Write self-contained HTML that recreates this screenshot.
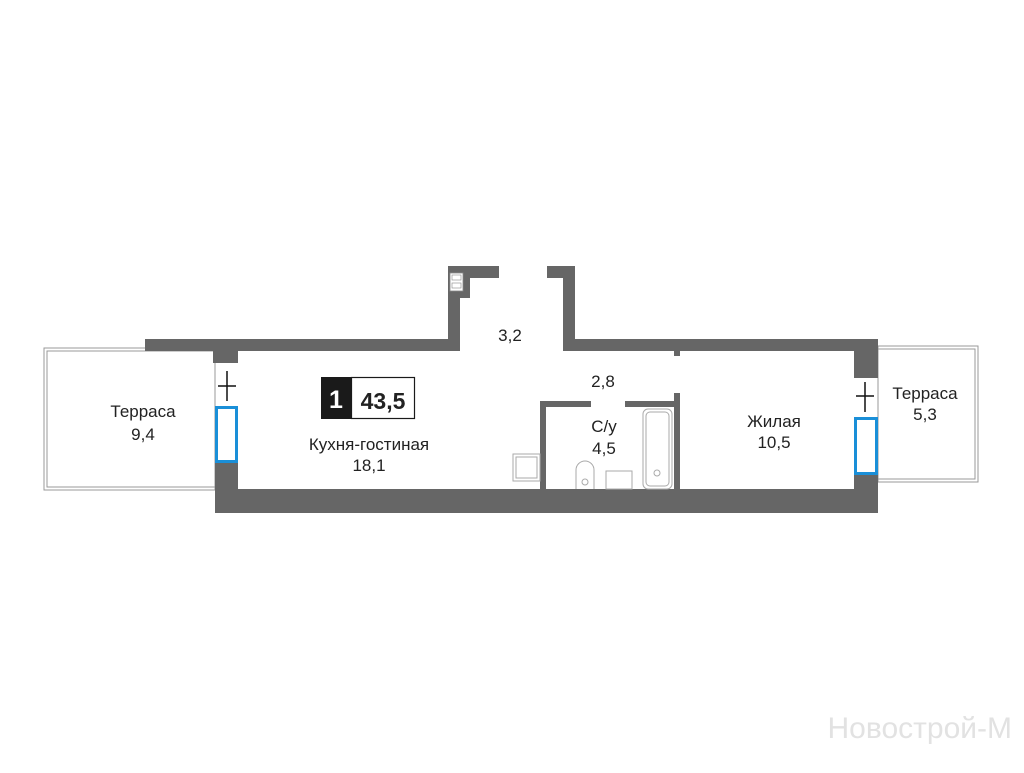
<!DOCTYPE html>
<html><head><meta charset="utf-8"><style>
body{margin:0;background:#fff;}
svg text{font-family:"Liberation Sans","DejaVu Sans",sans-serif;fill:#222;}
</style></head><body>
<svg width="1024" height="768" viewBox="0 0 1024 768" xmlns="http://www.w3.org/2000/svg">
<g fill="none" stroke="#999" stroke-width="1">
<rect x="44" y="348" width="171" height="142"/>
<rect x="47" y="351" width="168" height="136"/>
<rect x="878" y="346" width="100" height="136"/>
<rect x="878" y="349" width="97" height="130"/>
</g>
<g fill="#666">
<rect x="145" y="339" width="315" height="12"/>
<rect x="213" y="351" width="25" height="12"/>
<rect x="448" y="266" width="12" height="85"/>
<rect x="448" y="266" width="51" height="12"/>
<rect x="448" y="266" width="22" height="32"/>
<rect x="547" y="266" width="28" height="12"/>
<rect x="563" y="266" width="12" height="85"/>
<rect x="563" y="339" width="315" height="12"/>
<rect x="854" y="339" width="24" height="39"/>
<rect x="674" y="351" width="6" height="5"/>
<rect x="215" y="489" width="663" height="24"/>
<rect x="215" y="462" width="23" height="27"/>
<rect x="854" y="474" width="24" height="15"/>
<rect x="540" y="401" width="6" height="88"/>
<rect x="540" y="401" width="51" height="6"/>
<rect x="625" y="401" width="55" height="6"/>
<rect x="674" y="393" width="6" height="96"/>
</g>
<rect x="450" y="273" width="13" height="18" fill="#fff" stroke="#888" stroke-width="0.8"/>
<rect x="452" y="275" width="9" height="5" fill="none" stroke="#888" stroke-width="0.6"/>
<rect x="452" y="283" width="9" height="5" fill="none" stroke="#888" stroke-width="0.6"/>
<rect x="216.5" y="407.5" width="20" height="54" fill="#fff" stroke="#1a8fd8" stroke-width="3"/>
<rect x="855.5" y="418.5" width="21" height="55" fill="#fff" stroke="#1a8fd8" stroke-width="3"/>
<g stroke="#111" stroke-width="1.5">
<line x1="227" y1="371" x2="227" y2="401"/><line x1="218" y1="386" x2="236" y2="386"/>
<line x1="865" y1="382" x2="865" y2="412"/><line x1="856" y1="396" x2="874" y2="396"/>
</g>
<g fill="none" stroke="#aaa" stroke-width="1">
<rect x="513" y="454" width="27" height="27"/><rect x="516" y="457" width="21" height="21"/>
<rect x="643" y="409" width="29" height="80" rx="5"/>
<rect x="646" y="412" width="23" height="74" rx="4"/>
<path d="M576 489 V470 a9 9 0 0 1 18 0 V489"/>
<rect x="606" y="471" width="26" height="18"/>
<circle cx="585" cy="482" r="3"/><circle cx="657" cy="473" r="3"/>
</g>
<rect x="321" y="377" width="30" height="42" fill="#1a1a1a"/>
<rect x="351.5" y="377.5" width="63" height="41" fill="#fff" stroke="#1a1a1a" stroke-width="1.2"/>
<text x="336" y="408" font-size="25" font-weight="bold" text-anchor="middle" style="fill:#fff">1</text>
<text x="383" y="409" font-size="23" text-anchor="middle" font-weight="bold">43,5</text>
<g font-size="17" text-anchor="middle">
<text x="510" y="341">3,2</text>
<text x="369" y="450">Кухня-гостиная</text>
<text x="369" y="471">18,1</text>
<text x="603" y="387">2,8</text>
<text x="604" y="432">С/у</text>
<text x="604" y="454">4,5</text>
<text x="774" y="427">Жилая</text>
<text x="774" y="448">10,5</text>
<text x="143" y="417">Терраса</text>
<text x="143" y="440">9,4</text>
<text x="925" y="399">Терраса</text>
<text x="925" y="420">5,3</text>
</g>
<text x="1012" y="738" font-size="30" text-anchor="end" style="fill:#e2e2e2">Новострой-М</text>
</svg>
</body></html>
